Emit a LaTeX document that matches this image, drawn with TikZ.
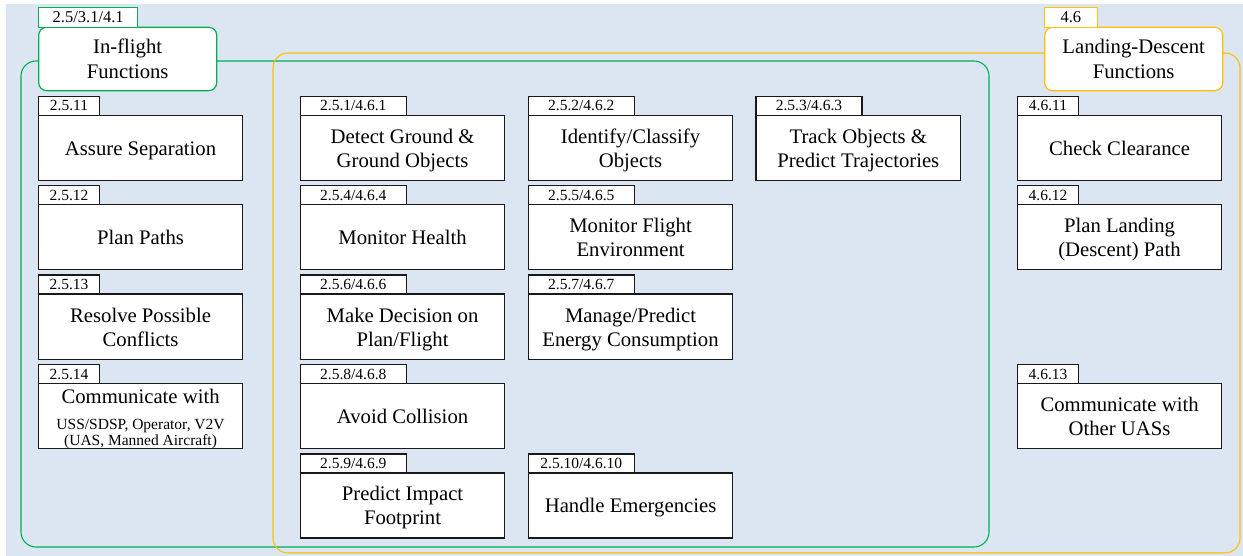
\documentclass[tikz,border=0pt]{standalone}
\usepackage{fontspec}
\setmainfont{Liberation Serif}
\definecolor{bgblue}{RGB}{220,230,242}
\definecolor{ingreen}{RGB}{0,176,80}
\definecolor{ldyellow}{RGB}{255,192,0}
\definecolor{boxline}{RGB}{25,25,25}
\newcommand{\smallfn}{\fontsize{15.5}{18}\selectfont}
% one function: box (name) with its number tag on its top left corner
% #1 name, #2 x, #3 y of the tag's top, #4 tag width, #5 number,
% #6 text height (sets where the last line sits), #7 text
\newcommand{\funcbox}[7]{%
  \node[fbox, text height=#6, anchor=north west] (#1) at (#2,#3+19) {#7};
  \node[ftag, minimum width=#4, anchor=south west] (#1-tag) at (#1.north west) {#5};
}
\tikzset{
  fbox/.style={draw=boxline, line width=1.2pt, fill=white, inner sep=0pt, outer sep=0pt,
    minimum width=204.5pt, minimum height=65pt, align=center, text depth=0pt,
    font=\fontsize{20.7}{24}\selectfont},
  ftag/.style={draw=boxline, line width=1.2pt, fill=white, inner sep=0pt, outer sep=0pt,
    minimum height=19pt, font=\smallfn},
  hdr/.style={line width=1.2pt, fill=white, inner sep=0pt, outer sep=0pt, rounded corners=8pt,
    minimum width=178pt, minimum height=63.4pt, align=center, text height=38.6pt, text depth=0pt,
    font=\fontsize{20.7}{25}\selectfont},
  hdrtag/.style={line width=1pt, fill=white, inner sep=0pt, outer sep=0pt, minimum height=19.3pt,
    font=\fontsize{16.5}{19}\selectfont},
  group/.style={line width=1.1pt, rounded corners=15pt},
}
\begin{document}
\begin{tikzpicture}[x=1pt,y=-1pt]
\useasboundingbox (0,0) rectangle (1243,556);
\fill[bgblue] (6,4) rectangle (1243,556);

% the two function groups
\draw[group, ingreen] (21,61) rectangle (989,547);
\draw[group, ldyellow] (273,53) rectangle (1240,553);

% group headers
\node[hdr, draw=ingreen, anchor=north west] (inflight) at (38.7,27.3) {In-flight\\Functions};
\node[hdrtag, draw=ingreen, minimum width=99pt, anchor=south west] (inflight-tag) at (inflight.north west) {2.5/3.1/4.1};
\node[hdr, draw=ldyellow, anchor=north west] (landing) at (1044.7,27.3) {Landing-Descent\\Functions};
\node[hdrtag, draw=ldyellow, minimum width=52.3pt, anchor=south west] (landing-tag) at (landing.north west) {4.6};

% in-flight only
\funcbox{sep}{38.3}{96.3}{61.4pt}{2.5.11}{15pt}{Assure Separation}
\funcbox{paths}{38.3}{185.7}{61.4pt}{2.5.12}{15pt}{Plan Paths}
\funcbox{resolve}{38.3}{275.1}{61.4pt}{2.5.13}{39pt}{Resolve Possible\\Conflicts}
\funcbox{comm}{38.3}{364.5}{61.4pt}{2.5.14}{58pt}{Communicate with\\[2pt]{\smallfn USS/SDSP, Operator, V2V}\\[-8.5pt]{\smallfn (UAS, Manned Aircraft)}}

% shared functions
\funcbox{detect}{300.3}{96.3}{106pt}{2.5.1/4.6.1}{39pt}{Detect Ground \&\\Ground Objects}
\funcbox{health}{300.3}{185.7}{106pt}{2.5.4/4.6.4}{15pt}{Monitor Health}
\funcbox{decide}{300.3}{275.1}{106pt}{2.5.6/4.6.6}{39pt}{Make Decision on\\Plan/Flight}
\funcbox{avoid}{300.3}{364.5}{106pt}{2.5.8/4.6.8}{15pt}{Avoid Collision}
\funcbox{impact}{300.3}{453.9}{106pt}{2.5.9/4.6.9}{39pt}{Predict Impact\\Footprint}

\funcbox{classify}{528.3}{96.3}{106pt}{2.5.2/4.6.2}{39pt}{Identify/Classify\\Objects}
\funcbox{environ}{528.3}{185.7}{106pt}{2.5.5/4.6.5}{39pt}{Monitor Flight\\Environment}
\funcbox{energy}{528.3}{275.1}{106pt}{2.5.7/4.6.7}{39pt}{Manage/Predict\\Energy Consumption}
\funcbox{emerg}{528.3}{453.9}{106pt}{2.5.10/4.6.10}{15pt}{Handle Emergencies}

\funcbox{track}{756}{96.3}{106pt}{2.5.3/4.6.3}{39pt}{Track Objects \&\\Predict Trajectories}

% landing-descent only
\funcbox{clear}{1017.3}{96.3}{61.4pt}{4.6.11}{15pt}{Check Clearance}
\funcbox{landpath}{1017.3}{185.7}{61.4pt}{4.6.12}{39pt}{Plan Landing\\(Descent) Path}
\funcbox{uas}{1017.3}{364.5}{61.4pt}{4.6.13}{39pt}{Communicate with\\Other UASs}
\end{tikzpicture}
\end{document}
